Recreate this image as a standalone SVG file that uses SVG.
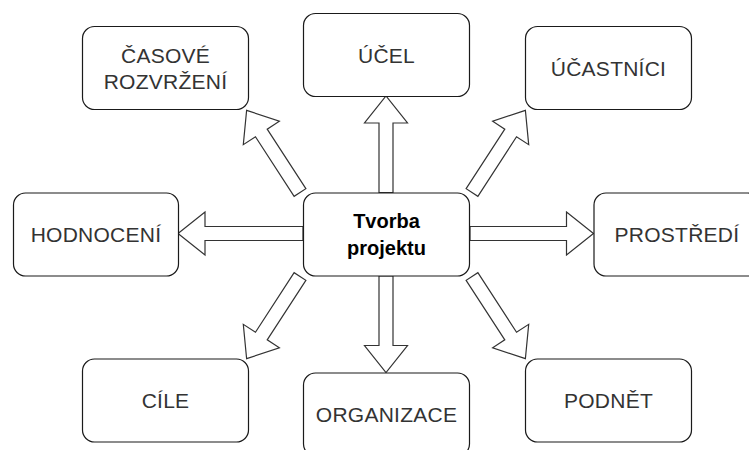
<svg xmlns="http://www.w3.org/2000/svg" width="749" height="450" viewBox="0 0 749 450">
<style>
.box{fill:#fff;stroke:#1a1a1a;stroke-width:1.2}
.arr{fill:#fff;stroke:#333;stroke-width:1.2;stroke-linejoin:miter}
.t{font-family:"Liberation Sans",Arial,sans-serif;font-size:21px;letter-spacing:0.25px;fill:#333;text-anchor:middle}
.b{font-family:"Liberation Sans",Arial,sans-serif;font-size:20px;font-weight:bold;fill:#000;text-anchor:middle}
</style>
<rect width="749" height="450" fill="#fff"/>
<g id="connectors">
<polygon class="arr" transform="translate(386,192.5) rotate(-90)" points="0,-7 69.5,-7 69.5,-21.5 96.5,0 69.5,21.5 69.5,7 0,7"/>
<polygon class="arr" transform="translate(386,276) rotate(90)" points="0,-7 69.5,-7 69.5,-21.5 96.5,0 69.5,21.5 69.5,7 0,7"/>
<polygon class="arr" transform="translate(303,233.5) rotate(180)" points="0,-7 98,-7 98,-21.5 125,0 98,21.5 98,7 0,7"/>
<polygon class="arr" transform="translate(470,233.5)" points="0,-7 96.5,-7 96.5,-21.5 123.5,0 96.5,21.5 96.5,7 0,7"/>
<polygon class="arr" transform="translate(300,192.5) rotate(-123)" points="0,-7 71,-7 71,-21.5 98,0 71,21.5 71,7 0,7"/>
<polygon class="arr" transform="translate(472,192.5) rotate(-57)" points="0,-7 71,-7 71,-21.5 98,0 71,21.5 71,7 0,7"/>
<polygon class="arr" transform="translate(300,276.5) rotate(123)" points="0,-7 71,-7 71,-21.5 98,0 71,21.5 71,7 0,7"/>
<polygon class="arr" transform="translate(472,276.5) rotate(57)" points="0,-7 71,-7 71,-21.5 98,0 71,21.5 71,7 0,7"/>
</g>
<g id="casove">
<rect class="box" x="82.5" y="26.5" width="166" height="83" rx="12"/>
<text class="t" x="165.5" y="62.5">ČASOVÉ</text>
<text class="t" x="165.5" y="89">ROZVRŽENÍ</text>
</g>
<g id="ucel">
<rect class="box" x="303.5" y="13.5" width="166" height="83" rx="12"/>
<text class="t" x="386.5" y="62.5">ÚČEL</text>
</g>
<g id="ucastnici">
<rect class="box" x="525.5" y="26.5" width="166" height="83" rx="12"/>
<text class="t" x="608.5" y="76">ÚČASTNÍCI</text>
</g>
<g id="hodnoceni">
<rect class="box" x="13.5" y="193" width="165" height="83" rx="12"/>
<text class="t" x="96" y="242">HODNOCENÍ</text>
</g>
<g id="tvorba">
<rect class="box" x="303.5" y="193" width="166" height="83" rx="12"/>
<text class="b" x="386.5" y="227.5">Tvorba</text>
<text class="b" x="386.5" y="254.5">projektu</text>
</g>
<g id="prostredi">
<rect class="box" x="594" y="193" width="166" height="83" rx="12"/>
<text class="t" x="677" y="242">PROSTŘEDÍ</text>
</g>
<g id="cile">
<rect class="box" x="82.5" y="359" width="166" height="83" rx="12"/>
<text class="t" x="165.5" y="408">CÍLE</text>
</g>
<g id="organizace">
<rect class="box" x="303.5" y="373" width="166" height="83" rx="12"/>
<text class="t" x="386.5" y="422">ORGANIZACE</text>
</g>
<g id="podnet">
<rect class="box" x="525.5" y="359" width="166" height="83" rx="12"/>
<text class="t" x="608.5" y="408">PODNĚT</text>
</g>
</svg>
